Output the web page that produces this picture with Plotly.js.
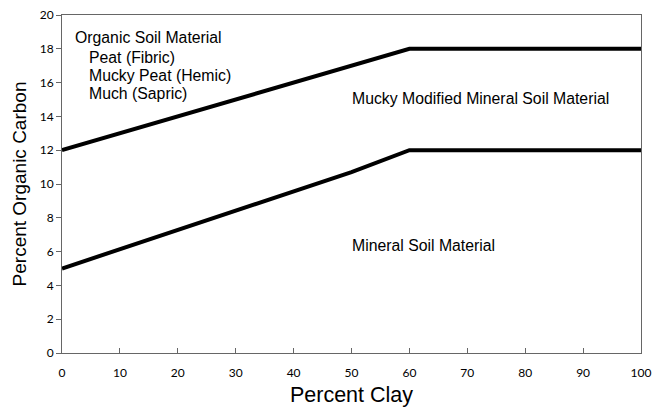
<!DOCTYPE html>
<html><head><meta charset="utf-8">
<script src="https://cdn.plot.ly/plotly-3.0.1.min.js"></script>
<style>html,body{margin:0;padding:0;background:#fff}#c{width:656px;height:407px}</style>
</head><body><div id="c"></div>
<script>
const upperClay = [0, 60, 100];
const upperCarbon = [12, 18, 18];
const lowerClay = [0, 50, 60, 100];
const lowerCarbon = [5, 10.7, 12, 12];
const xTicks = [0,10,20,30,40,50,60,70,80,90,100];
const yTicks = [0,2,4,6,8,10,12,14,16,18,20];
const labels = [
  {text: "Organic Soil Material", x: 1.9, y: 18.64},
  {text: "Peat (Fibric)", x: 4.3, y: 17.51},
  {text: "Mucky Peat (Hemic)", x: 4.3, y: 16.45},
  {text: "Much (Sapric)", x: 4.3, y: 15.38},
  {text: "Mucky Modified Mineral Soil Material", x: 49.7, y: 15.03},
  {text: "Mineral Soil Material", x: 49.7, y: 6.35}
];
const traces = [
  {x: upperClay, y: upperCarbon, mode: 'lines', line: {color: '#000', width: 4}, hoverinfo: 'skip'},
  {x: lowerClay, y: lowerCarbon, mode: 'lines', line: {color: '#000', width: 4}, hoverinfo: 'skip'}
];
const layout = {
  width: 656, height: 407,
  margin: {l: 62, r: 15, t: 15, b: 54},
  showlegend: false,
  paper_bgcolor: '#fff', plot_bgcolor: '#fff',
  font: {family: 'Liberation Sans, Arial, sans-serif', color: '#000'},
  xaxis: {
    range: [0, 100], tickvals: xTicks, ticktext: xTicks.map(String),
    showgrid: false, zeroline: false, showline: true, linecolor: '#666', linewidth: 1, mirror: true,
    ticks: 'inside', ticklen: 5, tickcolor: '#666', ticklabelstandoff: 9,
    tickfont: {family: 'Lato, Open Sans, sans-serif', size: 12, color: '#000'},
    title: {text: 'Percent Clay', font: {size: 21.5, family: 'Liberation Sans, Arial, sans-serif'}, standoff: 12}
  },
  yaxis: {
    range: [0, 20], tickvals: yTicks, ticktext: yTicks.map(String),
    showgrid: false, zeroline: false, showline: true, linecolor: '#666', linewidth: 1, mirror: true,
    ticks: 'outside', ticklen: 5, tickcolor: '#666',
    tickfont: {family: 'Lato, Open Sans, sans-serif', size: 12, color: '#000'},
    title: {text: 'Percent Organic Carbon', font: {size: 19, family: 'Liberation Sans, Arial, sans-serif'}, standoff: 8}
  },
  annotations: labels.map(l => ({
    x: l.x, y: l.y, xref: 'x', yref: 'y', text: l.text,
    showarrow: false, xanchor: 'left', yanchor: 'middle',
    font: {size: 15.8, family: 'Liberation Sans, Arial, sans-serif', color: '#000'}
  }))
};
Plotly.newPlot('c', traces, layout, {displayModeBar: false, staticPlot: true});
</script></body></html>
